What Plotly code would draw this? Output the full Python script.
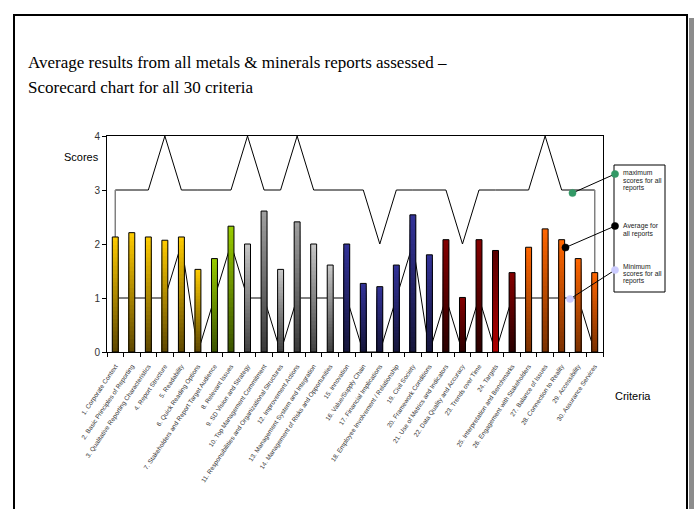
import plotly.graph_objects as go

# ---- data -------------------------------------------------------------
criteria = [
    "1. Corporate Context", "2. Basic Principles of Reporting",
    "3. Qualitative Reporting Characteristics", "4. Report Structure",
    "5. Readability", "6. Quick Reading Options",
    "7. Stakeholders and Report Target Audience", "8. Relevant Issues",
    "9. SD Vision and Strategy", "10. Top Management Commitment",
    "11. Responsibilities and Organizational Structures", "12. Improvement Actions",
    "13. Management System and Integration", "14. Management of Risks and Opportunities",
    "15. Innovation", "16. Value/Supply Chain", "17. Financial Implications",
    "18. Employee Involvement / Relationship", "19. Civil Society",
    "20. Framework Conditions", "21. Use of Metrics and Indicators",
    "22. Data Quality and Accuracy", "23. Trends over Time", "24. Targets",
    "25. Interpretation and Benchmarks", "26. Engagement with Stakeholders",
    "27. Balance of Issues", "28. Connection to Reality", "29. Accessibility",
    "30. Assurance Services",
]
average_scores = [2.13, 2.21, 2.13, 2.07, 2.13, 1.53, 1.73, 2.33, 2.00, 2.61,
                  1.53, 2.41, 2.00, 1.61, 2.00, 1.27, 1.21, 1.61, 2.54, 1.80,
                  2.08, 1.01, 2.08, 1.88, 1.47, 1.94, 2.28, 2.08, 1.73, 1.47]
maximum_scores = [3, 3, 3, 4, 3, 3, 3, 3, 4, 3, 3, 4, 3, 3, 3,
                  3, 2, 3, 3, 3, 3, 2, 3, 3, 3, 3, 4, 3, 3, 3]
minimum_scores = [1, 1, 1, 1, 2, 0, 1, 2, 1, 1, 0, 1, 1, 1, 1,
                  0, 0, 1, 2, 0, 1, 0, 1, 0, 1, 1, 1, 1, 1, 0]
y_ticks = [0, 1, 2, 3, 4]

# gradient colours per bar: (top, bottom)
GOLD = ("#FFCC00", "#5E4700")
GREEN = ("#99CC00", "#3A5200")
GREY = ("#C8C8C8", "#404040")
GREY_D = ("#A0A0A0", "#383838")
NAVY = ("#333399", "#15153A")
MAROON = ("#850000", "#2A0000")
MAROON_R = ("#5A0000", "#B00000")
ORANGE = ("#FF6600", "#7A3000")
bar_gradients = ([GOLD] * 6 + [GREEN] * 2 +
                 [GREY, GREY_D, GREY, GREY_D, GREY, GREY] +
                 [NAVY] * 6 +
                 [MAROON, MAROON, MAROON, MAROON_R, MAROON] +
                 [ORANGE] * 5)

# ---- geometry helpers (pixel -> paper) -------------------------------
W, H = 696, 509
L, R, T, B = 107, 603, 136, 352


def xp(px):
    return (px - L) / (R - L)


def yp(py):
    return (B - py) / (B - T)


def hex2rgb(h):
    h = h.lstrip("#")
    return tuple(int(h[i:i + 2], 16) for i in (0, 2, 4))


def mix(c_top, c_bot, t):
    a, b = hex2rgb(c_top), hex2rgb(c_bot)
    return "rgb(%d,%d,%d)" % tuple(round(b[i] + (a[i] - b[i]) * t) for i in range(3))


fig = go.Figure()

# max / min lines sit on the base axis so the bars cover them
fig.add_trace(go.Scatter(x=criteria, y=maximum_scores, mode="lines",
                         line=dict(color="black", width=1), yaxis="y",
                         name="maximum scores for all reports", hoverinfo="skip"))
fig.add_trace(go.Scatter(x=criteria, y=minimum_scores, mode="lines",
                         line=dict(color="black", width=1), yaxis="y",
                         name="Minimum scores for all reports", hoverinfo="skip"))
# grey drop lines at both ends of the max series
for i in (0, len(criteria) - 1):
    fig.add_trace(go.Scatter(x=[criteria[i], criteria[i]],
                             y=[0, maximum_scores[i]], mode="lines",
                             line=dict(color="#808080", width=1.5), yaxis="y",
                             showlegend=False, hoverinfo="skip"))

# average bars with a vertical gradient, built from nested slices
N = 28
for k in range(N - 1, -1, -1):
    frac = (k + 1) / N
    t = (k + 0.5) / N
    fig.add_trace(go.Bar(
        x=criteria, y=[v * frac for v in average_scores], width=0.36,
        marker=dict(color=[mix(top, bot, t) for top, bot in bar_gradients],
                    line=dict(width=0)),
        yaxis="y2", showlegend=False, hoverinfo="skip"))
fig.add_trace(go.Bar(
    x=criteria, y=average_scores, width=0.36,
    marker=dict(color="rgba(0,0,0,0)", line=dict(color="black", width=1)),
    yaxis="y2", name="Average for all reports"))

axis_font = dict(family="Liberation Sans, Arial", color="#333333")
fig.update_layout(
    width=W, height=H,
    margin=dict(l=L, r=W - R, t=T, b=H - B, autoexpand=False),
    paper_bgcolor="white", plot_bgcolor="white",
    barmode="overlay", showlegend=False,
    xaxis=dict(type="category", tickson="boundaries", ticks="outside",
               ticklen=4, tickcolor="black", showline=True, linecolor="black",
               linewidth=1, mirror=True, showgrid=False, tickangle=-56,
               tickfont=dict(size=6.4, **axis_font), automargin=False,
               ticklabelstandoff=7,
               range=[-0.5, len(criteria) - 0.5]),
    yaxis=dict(range=[0, 4], tickvals=y_ticks, ticks="outside", ticklen=4,
               tickcolor="black", showline=True, linecolor="black",
               linewidth=1, mirror=True, showgrid=False, zeroline=False,
               tickfont=dict(size=10, **axis_font), automargin=False),
    yaxis2=dict(range=[0, 4], overlaying="y", visible=False),
)

# ---- text -------------------------------------------------------------
title_font = dict(family="Liberation Serif, Times New Roman", size=17, color="black")
fig.add_annotation(text="Average results from all metals &amp; minerals reports assessed –",
                   xref="paper", yref="paper", x=xp(26), y=yp(62),
                   xanchor="left", yanchor="middle", showarrow=False, font=title_font)
fig.add_annotation(text="Scorecard chart for all 30 criteria",
                   xref="paper", yref="paper", x=xp(26), y=yp(88),
                   xanchor="left", yanchor="middle", showarrow=False, font=title_font)
fig.add_annotation(text="Scores", xref="paper", yref="paper", x=xp(62), y=yp(157),
                   xanchor="left", yanchor="middle", showarrow=False,
                   font=dict(family="Liberation Sans, Arial", size=11, color="black"))
fig.add_annotation(text="Criteria", xref="paper", yref="paper", x=xp(613), y=yp(396),
                   xanchor="left", yanchor="middle", showarrow=False,
                   font=dict(family="Liberation Sans, Arial", size=11, color="black"))

# ---- callout legend ---------------------------------------------------
fig.add_shape(type="rect", xref="paper", yref="paper",
              x0=xp(614), x1=xp(665), y0=yp(292), y1=yp(165),
              line=dict(color="black", width=1), fillcolor="white")
callouts = [
    ("#339966", (572.5, 193), (615, 174), ["maximum", "scores for all", "reports"], 172.5),
    ("black", (565.5, 247.5), (615, 226), ["Average for", "all reports"], 226),
    ("#CCCCFF", (570, 299), (615, 270), ["Minimum", "scores for all", "reports"], 266),
]
legend_font = dict(family="Liberation Sans, Arial", size=6.8, color="#222222")
for color, (cx, cy), (lx, ly), lines, ty in callouts:
    fig.add_shape(type="line", xref="paper", yref="paper",
                  x0=xp(cx), y0=yp(cy), x1=xp(lx), y1=yp(ly),
                  line=dict(color="black", width=1))
    for (px, py) in ((cx, cy), (lx, ly)):
        fig.add_shape(type="circle", xref="paper", yref="paper",
                      x0=xp(px - 3.6), x1=xp(px + 3.6),
                      y0=yp(py + 3.6), y1=yp(py - 3.6),
                      line=dict(color=color, width=0.5), fillcolor=color)
    for j, txt in enumerate(lines):
        fig.add_annotation(text=txt, xref="paper", yref="paper",
                           x=xp(620.5), y=yp(ty + j * 7.6),
                           xanchor="left", yanchor="middle", showarrow=False,
                           font=legend_font)

# ---- slide frame with shadow -----------------------------------------
fig.add_shape(type="rect", xref="paper", yref="paper",
              x0=xp(689), x1=xp(694), y0=yp(H + 5), y1=yp(18),
              line=dict(width=0), fillcolor="#8C8C8C")
fig.add_shape(type="rect", xref="paper", yref="paper",
              x0=xp(14), x1=xp(687), y0=yp(H + 5), y1=yp(15),
              line=dict(color="black", width=2), fillcolor="rgba(0,0,0,0)")

fig.write_html("out.html")
